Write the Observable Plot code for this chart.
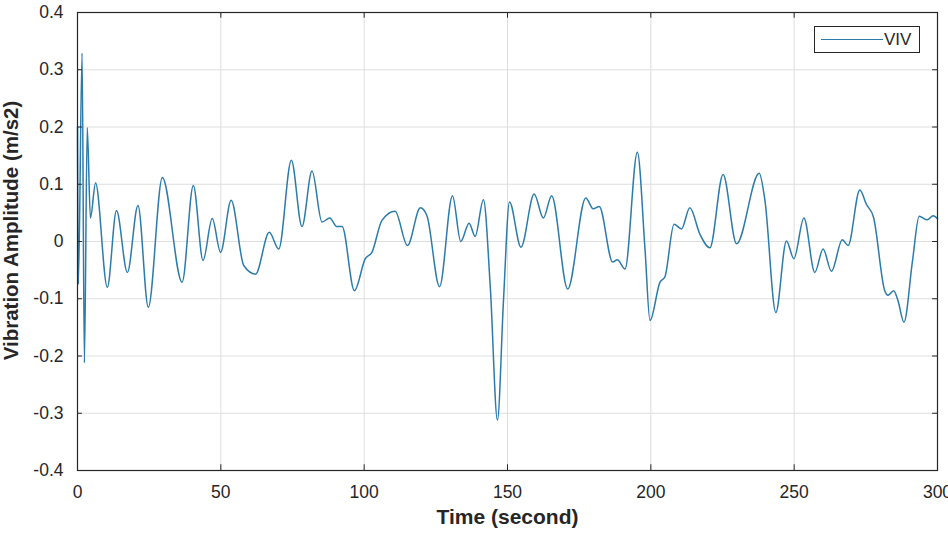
<!DOCTYPE html>
<html>
<head>
<meta charset="utf-8">
<script src="https://cdn.jsdelivr.net/npm/d3@7"></script>
<script src="https://cdn.jsdelivr.net/npm/@observablehq/plot@0.6"></script>
<style>
  html, body { margin: 0; padding: 0; background: #fff; }
  #wrap { position: relative; width: 948px; height: 534px; overflow: hidden; }
  #legend { position: absolute; left: 814px; top: 26px; width: 106px; height: 27px;
    border: 1px solid #262626; background: #fff; box-sizing: border-box;
    font-family: "Liberation Sans", Arial, sans-serif; font-size: 17px; color: #262626; }
  #legend .sw { position: absolute; left: 6px; top: 12px; width: 62px; height: 0; border-top: 1.5px solid #2b7bab; }
  #legend .lb { position: absolute; left: 69px; top: 3px; line-height: 19px; }
</style>
</head>
<body>
<div id="wrap"></div>
<script>
const times = [0, 0.3, 1.6, 2.4, 3.4, 4.5, 6.3, 10.4, 13.6, 17.4, 21.1, 24.7, 29.6, 36.5, 40.4, 43.8, 47.0, 49.9, 53.6, 58.0, 62.1, 66.9, 70.2, 74.6, 78.3, 81.8, 85.3, 88.0, 90.5, 92.3, 96.6, 100.4, 102.7, 106.2, 110.8, 115.1, 119.6, 121.9, 126.3, 130.8, 133.7, 136.6, 138.7, 141.6, 144.0, 146.5, 148.6, 150.7, 154.7, 159.3, 162.5, 165.4, 171.0, 177.3, 179.9, 182.0, 186.7, 188.3, 191.0, 195.3, 198.0, 199.7, 203.2, 204.9, 208.1, 210.7, 213.6, 217.1, 220.6, 225.2, 229.9, 237.8, 239.8, 243.6, 247.3, 249.9, 253.4, 257.2, 260.1, 263.0, 266.8, 268.8, 272.9, 275.2, 277.7, 281.6, 282.7, 284.7, 286.2, 288.3, 291.3, 293.6, 296.4, 298.5, 300];
const viv = [0.2, -0.075, 0.329, -0.212, 0.199, 0.041, 0.102, -0.08, 0.054, -0.054, 0.063, -0.115, 0.112, -0.071, 0.098, -0.033, 0.04, -0.019, 0.072, -0.042, -0.057, 0.016, -0.013, 0.142, 0.026, 0.123, 0.034, 0.041, 0.026, 0.026, -0.086, -0.03, -0.019, 0.037, 0.053, -0.007, 0.059, 0.045, -0.079, 0.08, 0.0, 0.032, 0.009, 0.073, -0.08, -0.312, -0.103, 0.069, -0.01, 0.083, 0.041, 0.08, -0.083, 0.076, 0.057, 0.061, -0.036, -0.032, -0.048, 0.156, -0.016, -0.138, -0.071, -0.062, 0.03, 0.022, 0.059, 0.013, -0.011, 0.117, -0.004, 0.119, 0.072, -0.124, 0.001, -0.03, 0.041, -0.054, -0.013, -0.052, 0.003, -0.007, 0.09, 0.065, 0.042, -0.086, -0.094, -0.086, -0.103, -0.141, -0.033, 0.044, 0.038, 0.045, 0.04];
const xTicks = [0, 50, 100, 150, 200, 250, 300];
const yTicks = [-0.4, -0.3, -0.2, -0.1, 0, 0.1, 0.2, 0.3, 0.4];
const seriesName = "VIV";
const xLabel = "Time (second)";
const yLabel = "Vibration Amplitude (m/s2)";

const data = times.map((t, i) => ({t, v: viv[i]}));
const color = "#2b7bab";
const axisColor = "#262626";

const chart = Plot.plot({
  width: 948,
  height: 534,
  marginLeft: 77,
  marginRight: 11,
  marginTop: 12,
  marginBottom: 64,
  style: {fontFamily: "'Liberation Sans', Arial, sans-serif", fontSize: "17.5px", color: axisColor, background: "#fff", overflow: "hidden"},
  x: {domain: [0, 300]},
  y: {domain: [-0.4, 0.4]},
  marks: [
    Plot.gridX(xTicks, {stroke: "#dedede", strokeOpacity: 1}),
    Plot.gridY(yTicks, {stroke: "#dedede", strokeOpacity: 1}),
    Plot.line(data, {x: "t", y: "v", stroke: color, strokeWidth: 1.5, curve: "monotone-x"}),
    Plot.ruleX(xTicks, {x: d => d, y1: -0.4, y2: -0.39, stroke: axisColor}),
    Plot.ruleX(xTicks, {x: d => d, y1: 0.4, y2: 0.39, stroke: axisColor}),
    Plot.ruleY(yTicks, {y: d => d, x1: 0, x2: 1.7, stroke: axisColor}),
    Plot.ruleY(yTicks, {y: d => d, x1: 300, x2: 298.3, stroke: axisColor}),
    Plot.frame({stroke: axisColor, strokeWidth: 1.2}),
    Plot.axisX(xTicks, {tickSize: 0, tickPadding: 15, label: null, tickFormat: d => String(d)}),
    Plot.axisY(yTicks, {tickSize: 0, tickPadding: 14, label: null, tickFormat: d => d === 0 ? "0" : d.toFixed(1)}),
    Plot.text([xLabel], {frameAnchor: "bottom", dy: 47, lineAnchor: "middle", textAnchor: "middle", fontWeight: "bold", fontSize: 21, fill: axisColor}),
    Plot.text([yLabel], {frameAnchor: "left", dx: -66, dy: -11, lineAnchor: "middle", textAnchor: "middle", rotate: -90, fontWeight: "bold", fontSize: 20.5, fill: axisColor})
  ]
});

const wrap = document.getElementById("wrap");
wrap.appendChild(chart);
const leg = document.createElement("div");
leg.id = "legend";
leg.innerHTML = '<div class="sw"></div><div class="lb">' + seriesName + '</div>';
wrap.appendChild(leg);
</script>
</body>
</html>
